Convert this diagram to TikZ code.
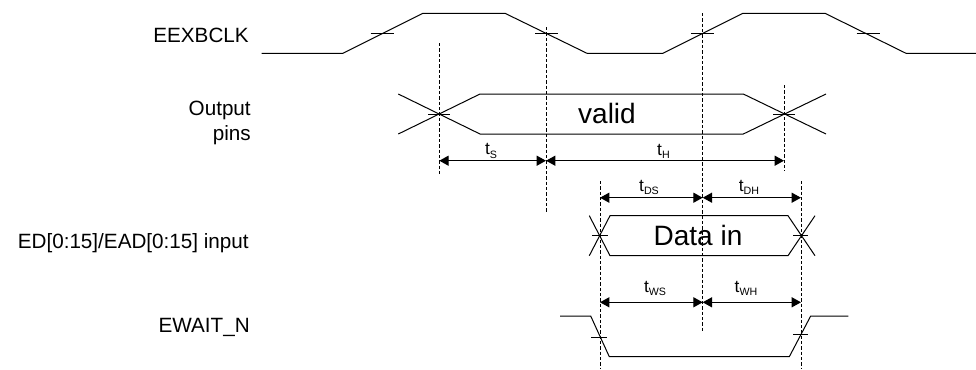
\documentclass[tikz,border=0pt]{standalone}
\usepackage{fontspec}
\setmainfont{Liberation Sans}
\usetikzlibrary{arrows.meta}
\newcommand{\tlab}[1]{t\raisebox{-0.35ex}{\fontsize{8}{9}\selectfont #1}}
\begin{document}
\begin{tikzpicture}[x=0.75pt,y=-0.75pt,
  wave/.style={line width=0.75pt},
  guide/.style={line width=0.6pt,dash pattern=on 2.5pt off 1.5pt},
  tickmark/.style={line width=0.75pt},
  dim/.style={line width=0.9pt,{Triangle[length=7pt,width=7.5pt]}-{Triangle[length=7pt,width=7.5pt]}},
  sig/.style={font=\fontsize{15.5}{18.75}\selectfont, anchor=east, align=right, inner sep=0pt},
  big/.style={font=\fontsize{21}{24}\selectfont, inner sep=0pt},
  tl/.style={font=\fontsize{13}{15}\selectfont, inner sep=0pt}]
\useasboundingbox (0,0) rectangle (976,369);

% signal names
\node[sig] (lclk) at (249,35) {EEXBCLK};
\node[sig] (lout) at (251,123) {Output\\pins};
\node[sig] (led) at (249,243) {ED[0:15]/EAD[0:15] input};
\node[sig] (lwait) at (250,327) {EWAIT\_N};

% clock
\draw[wave] (261.7,53.3) -- (343,53.3) -- (423,13.3) -- (505,13.3) -- (587,53.3) -- (663,53.3) -- (743,13.3) -- (825,13.3) -- (906,53.3) -- (976,53.3);
\draw[tickmark] (370.5,33.3) -- (393.5,33.3);
\draw[tickmark] (535,33.3) -- (558,33.3);
\draw[tickmark] (691,33.3) -- (714,33.3);
\draw[tickmark] (856.5,33.3) -- (879.5,33.3);

% output pins
\draw[wave] (398.3,94) -- (480,134) -- (743.3,134) -- (826,94);
\draw[wave] (398.3,134) -- (480,94) -- (743.3,94) -- (826,134);
\draw[tickmark] (428.3,114) -- (450.3,114);
\draw[tickmark] (773,114) -- (795,114);
\node[big] (valid) at (607,113) {valid};

% data in
\draw[wave] (589.3,215.7) -- (610,255.7) -- (788,255.7) -- (815,215.7);
\draw[wave] (589.3,255.7) -- (610,215.7) -- (788,215.7) -- (815,255.7);
\draw[tickmark] (592,235.7) -- (608,235.7);
\draw[tickmark] (793,235.7) -- (808,235.7);
\node[big] (datain) at (698,235) {Data in};

% ewait
\draw[wave] (560,316) -- (590.7,316) -- (609.3,356.7) -- (789.3,356.7) -- (810.7,316) -- (848.3,316);
\draw[tickmark] (591,337.5) -- (607,337.5);
\draw[tickmark] (793,334.3) -- (808,334.3);

% guides
\draw[guide] (439.3,43) -- (439.3,175);
\draw[guide] (546,27) -- (546,212);
\draw[guide] (702.7,13) -- (702.7,332);
\draw[guide] (784,85) -- (784,171);
\draw[guide] (600,181) -- (600,369);
\draw[guide] (801,181) -- (801,369);

% dimensions
\coordinate (s0) at (439.3,160.7);
\coordinate (s1) at (546,160.7);
\coordinate (s2) at (784,160.7);
\draw[dim] (s0) -- (s1);
\draw[dim] (s1) -- (s2);
\node[tl] (ts) at (491,151) {\tlab{S}};
\node[tl] (th) at (663.5,151) {\tlab{H}};

\coordinate (d0) at (600,197.7);
\coordinate (d1) at (702.7,197.7);
\coordinate (d2) at (801,197.7);
\draw[dim] (d0) -- (d1);
\draw[dim] (d1) -- (d2);
\node[tl] (tds) at (649,187.5) {\tlab{DS}};
\node[tl] (tdh) at (749,187.5) {\tlab{DH}};

\coordinate (w0) at (600,302.3);
\coordinate (w1) at (702.7,302.3);
\coordinate (w2) at (801,302.3);
\draw[dim] (w0) -- (w1);
\draw[dim] (w1) -- (w2);
\node[tl] (tws) at (655,288.5) {\tlab{WS}};
\node[tl] (twh) at (746,288.5) {\tlab{WH}};
\end{tikzpicture}
\end{document}
